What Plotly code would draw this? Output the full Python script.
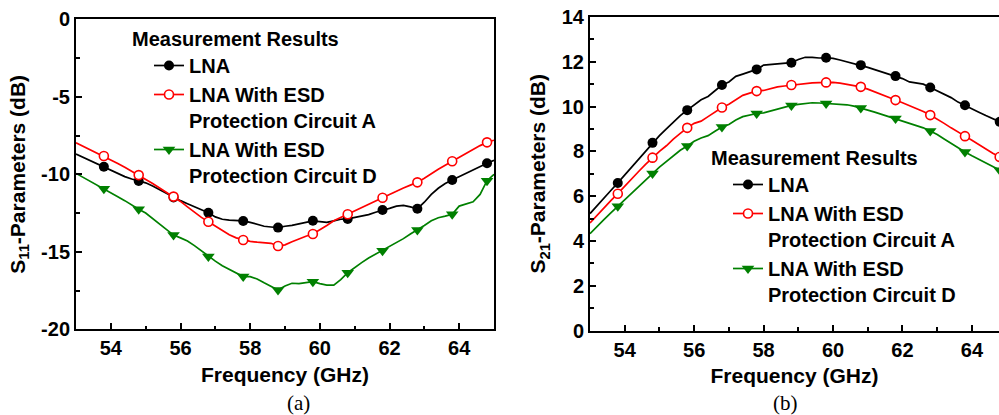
import plotly.graph_objects as go

# Frequency grid of the measured sweeps (GHz), 0.2 GHz step
freq = [round(53.0 + 0.2 * i, 1) for i in range(61)]

# S11 (dB)
s11_lna = [-8.69, -8.9, -9.1, -9.3, -9.51, -9.75, -9.95, -10.15, -10.3, -10.43,
           -10.55, -10.75, -11.0, -11.25, -11.49, -11.7, -11.9, -12.1, -12.3, -12.48,
           -12.75, -12.9, -12.95, -12.98, -13.01, -13.1, -13.25, -13.35, -13.4, -13.44,
           -13.35, -13.3, -13.2, -13.1, -13.0, -13.05, -13.1, -13.0, -12.9, -12.88,
           -12.8, -12.7, -12.6, -12.45, -12.3, -12.2, -12.05, -12.0, -12.1, -12.22,
           -11.8, -11.3, -10.9, -10.6, -10.37, -10.15, -9.95, -9.7, -9.5, -9.29, -9.1]
s11_esd_a = [-7.96, -8.18, -8.4, -8.6, -8.82, -9.05, -9.3, -9.55, -9.8, -10.05,
             -10.3, -10.6, -10.88, -11.16, -11.44, -11.75, -12.1, -12.45, -12.78, -13.06,
             -13.35, -13.65, -13.9, -14.1, -14.24, -14.33, -14.38, -14.4, -14.45, -14.63,
             -14.55, -14.35, -14.15, -14.0, -13.85, -13.6, -13.3, -13.0, -12.78, -12.58,
             -12.35, -12.12, -11.9, -11.7, -11.51, -11.3, -11.08, -10.88, -10.7, -10.52,
             -10.25, -9.95, -9.68, -9.42, -9.16, -8.9, -8.65, -8.4, -8.15, -7.94, -7.8]
s11_esd_d = [-9.94, -10.2, -10.45, -10.7, -10.93, -11.2, -11.45, -11.7, -12.0, -12.26,
             -12.5, -12.85, -13.25, -13.6, -13.92, -14.1, -14.3, -14.6, -14.95, -15.31,
             -15.6, -15.9, -16.15, -16.4, -16.6, -16.6, -16.75, -17.0, -17.25, -17.46,
             -17.2, -17.03, -17.05, -17.0, -16.93, -17.05, -17.15, -17.15, -16.8, -16.35,
             -16.0, -15.7, -15.4, -15.15, -14.93, -14.7, -14.45, -14.15, -13.85, -13.6,
             -13.3, -13.0, -12.8, -12.7, -12.58, -12.05, -11.9, -11.77, -11.3, -10.41, -10.0]

# S21 (dB)
s21_lna = [5.22, 5.55, 5.9, 6.25, 6.59, 6.95, 7.3, 7.67, 8.02, 8.38,
           8.7, 9.0, 9.3, 9.6, 9.84, 10.05, 10.3, 10.45, 10.7, 10.96,
           11.1, 11.35, 11.45, 11.55, 11.66, 11.85, 11.88, 11.9, 11.93, 11.96,
           12.1, 12.2, 12.2, 12.17, 12.18, 12.15, 12.08, 12.0, 11.93, 11.85,
           11.75, 11.65, 11.55, 11.45, 11.36, 11.25, 11.1, 11.05, 11.0, 10.85,
           10.7, 10.55, 10.4, 10.2, 10.06, 9.9, 9.75, 9.6, 9.45, 9.32, 9.2]
s21_esd_a = [4.8, 5.15, 5.45, 5.8, 6.11, 6.45, 6.8, 7.1, 7.42, 7.72,
             8.0, 8.25, 8.55, 8.8, 9.05, 9.25, 9.35, 9.55, 9.75, 9.96,
             10.1, 10.3, 10.5, 10.6, 10.69, 10.72, 10.8, 10.88, 10.92, 10.96,
             11.0, 11.05, 11.06, 11.07, 11.08, 11.08, 11.05, 11.0, 10.95, 10.88,
             10.78, 10.65, 10.52, 10.4, 10.29, 10.17, 10.05, 9.92, 9.78, 9.62,
             9.45, 9.25, 9.05, 8.88, 8.68, 8.5, 8.3, 8.1, 7.92, 7.75, 7.6]
s21_esd_d = [4.32, 4.65, 4.95, 5.25, 5.55, 5.85, 6.15, 6.45, 6.75, 7.01,
             7.3, 7.55, 7.8, 8.05, 8.24, 8.45, 8.6, 8.7, 8.9, 9.09,
             9.2, 9.4, 9.55, 9.62, 9.69, 9.72, 9.8, 9.9, 9.97, 10.05,
             10.1, 10.15, 10.17, 10.16, 10.14, 10.14, 10.12, 10.08, 10.02, 9.94,
             9.85, 9.75, 9.65, 9.55, 9.47, 9.38, 9.28, 9.17, 9.05, 8.91,
             8.75, 8.55, 8.35, 8.15, 7.97, 7.8, 7.65, 7.5, 7.32, 7.16, 7.0]

series_names = ["LNA", "LNA With ESD<br>Protection Circuit A", "LNA With ESD<br>Protection Circuit D"]
x_ticks = [54, 56, 58, 60, 62, 64]
s11_ticks = [0, -5, -10, -15, -20]
s11_ticktext = ["0", "-5", "-10", "-15", "-20"]
s21_ticks = [0, 2, 4, 6, 8, 10, 12, 14]

FONT = "Liberation Sans, Arial, sans-serif"
SERIF = "Liberation Serif, Times New Roman, serif"
styles = [
    dict(color="#000000", marker=dict(symbol="circle", size=10, color="#000000")),
    dict(color="#ff0000", marker=dict(symbol="circle", size=9, color="#ffffff",
                                      line=dict(color="#ff0000", width=1.6))),
    dict(color="#008000", marker=dict(symbol="triangle-down", size=11, color="#008000")),
]

fig = go.Figure()

panels = [
    ("x", "y", "legend", [s11_lna, s11_esd_a, s11_esd_d]),
    ("x2", "y2", "legend2", [s21_lna, s21_esd_a, s21_esd_d]),
]
for xa, ya, leg, data in panels:
    for name, vals, st in zip(series_names, data, styles):
        # measured sweep
        fig.add_trace(go.Scatter(x=freq, y=vals, mode="lines", xaxis=xa, yaxis=ya,
                                 line=dict(color=st["color"], width=1.7),
                                 showlegend=False, hoverinfo="skip"))
        # symbols every 1 GHz
        fig.add_trace(go.Scatter(x=freq[4::5], y=vals[4::5], mode="markers",
                                 xaxis=xa, yaxis=ya, marker=st["marker"],
                                 showlegend=False))
        # legend entry (line + symbol)
        fig.add_trace(go.Scatter(x=[None], y=[None], mode="lines+markers", name=name,
                                 xaxis=xa, yaxis=ya, legend=leg,
                                 line=dict(color=st["color"], width=1.7),
                                 marker=st["marker"]))

W, H = 999, 415
axis_common = dict(
    showline=True, linecolor="black", linewidth=2, mirror=True,
    ticks="inside", ticklen=6, tickwidth=1.5, tickcolor="black",
    showgrid=False, zeroline=False,
    tickfont=dict(family=FONT, size=20, color="black", weight="bold"),
    automargin=False,
)
minor_common = dict(ticks="inside", ticklen=3.5, tickwidth=1.5, tickcolor="black")
title_font = dict(family=FONT, size=21, color="black", weight="bold")
legend_font = dict(family=FONT, size=20, color="black", weight="bold")

fig.update_layout(
    width=W, height=H,
    margin=dict(l=0, r=0, t=0, b=0),
    paper_bgcolor="white", plot_bgcolor="white",
    xaxis=dict(domain=[76 / W, 494 / W], range=[53, 65], tickvals=x_ticks,
               minor=dict(dtick=1, tick0=53, **minor_common),
               title=dict(text="Frequency (GHz)", font=title_font, standoff=9), **axis_common),
    yaxis=dict(domain=[(H - 329.3) / H, (H - 19.3) / H], range=[-20, 0],
               tickvals=s11_ticks, ticktext=s11_ticktext,
               minor=dict(dtick=2.5, tick0=0, **minor_common),
               title=dict(text="S<sub>11</sub>-Parameters (dB)", font=title_font, standoff=10),
               **axis_common),
    xaxis2=dict(domain=[590 / W, 1.0], range=[53, 64.78], tickvals=x_ticks, anchor="y2",
                minor=dict(dtick=1, tick0=53, **minor_common),
                title=dict(text="Frequency (GHz)", font=title_font, standoff=9), **axis_common),
    yaxis2=dict(domain=[(H - 330.5) / H, (H - 17) / H], range=[0, 14], tickvals=s21_ticks, anchor="x2",
                minor=dict(dtick=1, tick0=0, **minor_common),
                title=dict(text="S<sub>21</sub>-Parameters (dB)", font=title_font, standoff=10),
                **{**axis_common, "mirror": False}),
    legend=dict(x=130 / W, y=1 - 20 / H, xanchor="left", yanchor="top",
                bgcolor="rgba(0,0,0,0)", valign="top", tracegroupgap=0, indentation=19,
                font=legend_font,
                title=dict(text="Measurement Results", font=legend_font)),
    legend2=dict(x=709 / W, y=1 - 139 / H, xanchor="left", yanchor="top",
                 bgcolor="rgba(0,0,0,0)", valign="top", tracegroupgap=0, indentation=19,
                 font=legend_font,
                 title=dict(text="Measurement Results", font=legend_font)),
    annotations=[
        dict(text="(a)", x=285 / W, y=1 - 403 / H, xref="paper", yref="paper", yanchor="middle",
             showarrow=False, font=dict(family=SERIF, size=21, color="black")),
        dict(text="(b)", x=800 / W, y=1 - 403 / H, xref="paper", yref="paper", yanchor="middle",
             showarrow=False, font=dict(family=SERIF, size=21, color="black")),
    ],
)

fig.write_html("out.html")
